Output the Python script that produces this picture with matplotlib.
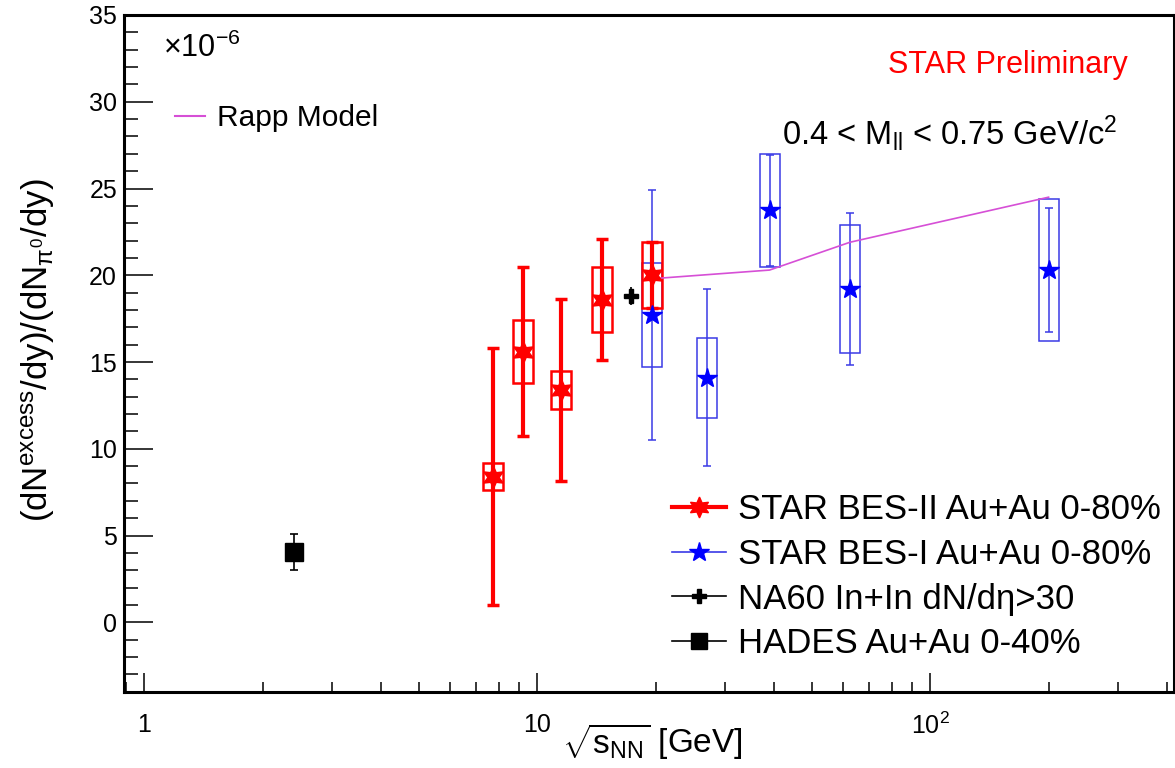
import numpy as np
import matplotlib
matplotlib.use('Agg')
import matplotlib.pyplot as plt
from matplotlib.patches import Rectangle
from matplotlib.lines import Line2D
from matplotlib.ticker import MultipleLocator, LogLocator, FixedLocator, FixedFormatter, NullFormatter

plt.rcParams['font.family'] = ['Liberation Sans', 'DejaVu Sans']
plt.rcParams['mathtext.fontset'] = 'custom'
plt.rcParams['mathtext.rm'] = 'Liberation Sans'
plt.rcParams['mathtext.it'] = 'Liberation Sans'
plt.rcParams['mathtext.bf'] = 'Liberation Sans:bold'

# values in units of 1e-6
bes2_snn = [7.7, 9.2, 11.5, 14.6, 19.6]
bes2_val = [8.4, 15.6, 13.4, 18.6, 20.0]
bes2_stat = [7.4, 4.85, 5.25, 3.5, 1.9]
bes2_sys = [0.8, 1.8, 1.1, 1.85, 1.9]

bes1_snn = [19.6, 27.0, 39.0, 62.4, 200.0]
bes1_val = [17.7, 14.1, 23.75, 19.2, 20.3]
bes1_stat = [7.2, 5.1, 3.2, 4.4, 3.55]
bes1_sys = [3.0, 2.3, 3.25, 3.7, 4.1]

na60_snn = [17.3]
na60_val = [18.8]
na60_err = [0.5]

hades_snn = [2.4]
hades_val = [4.05]
hades_err = [1.05]

rapp_snn = [19.6, 39.0, 62.4, 200.0]
rapp_val = [19.8, 20.3, 21.9, 24.5]

RED = '#ff0000'
BLUE = '#0000ff'
BLUE_LINE = '#3a3ae6'
MAGENTA = '#d64fd6'


def sys_boxes(ax, x, y, err, color, lw, half=0.0254):
    # boxes keep a fixed width in log space
    for xi, yi, ei in zip(x, y, err):
        x0 = xi * 10 ** (-half)
        x1 = xi * 10 ** half
        ax.add_patch(Rectangle((x0, yi - ei), x1 - x0, 2 * ei, fill=False,
                               ec=color, lw=lw, zorder=3))


fig = plt.figure(figsize=(11.75, 7.68), dpi=100)
ax = fig.add_axes([124 / 1175, 76.3 / 768, 1050 / 1175, 676.7 / 768])
ax.set_xscale('log')

# BES-I
ax.errorbar(bes1_snn, bes1_val, yerr=bes1_stat, fmt='none', ecolor=BLUE_LINE,
            elinewidth=1.1, capsize=3, capthick=1.1, zorder=2)
sys_boxes(ax, bes1_snn, bes1_val, bes1_sys, BLUE_LINE, 1.1)

# BES-II
ax.errorbar(bes2_snn, bes2_val, yerr=bes2_stat, fmt='none', ecolor=RED,
            elinewidth=3, capsize=4, capthick=2.5, zorder=4)
sys_boxes(ax, bes2_snn, bes2_val, bes2_sys, RED, 1.8)

ax.plot(rapp_snn, rapp_val, color=MAGENTA, lw=1.2, zorder=5)

ax.plot(bes2_snn, bes2_val, ls='none', marker=(6, 1, 0), ms=16, color=RED, zorder=6)
ax.plot(bes1_snn, bes1_val, ls='none', marker='*', ms=15, color=BLUE, zorder=6)

ax.errorbar(na60_snn, na60_val, yerr=na60_err, fmt='P', color='black', ms=10,
            elinewidth=1.2, capsize=0, zorder=6)
ax.errorbar(hades_snn, hades_val, yerr=hades_err, fmt='s', color='black', ms=13,
            elinewidth=1.2, capsize=3, capthick=1.2, zorder=6)

ax.set_xlim(0.888, 417)
ax.set_ylim(-4, 35)

ax.xaxis.set_major_locator(FixedLocator([1, 10, 100]))
ax.xaxis.set_major_formatter(FixedFormatter(['1', '10', '$10^{2}$']))
ax.xaxis.set_minor_locator(LogLocator(base=10, subs=np.arange(2, 10), numticks=20))
ax.xaxis.set_minor_formatter(NullFormatter())
ax.yaxis.set_major_locator(MultipleLocator(5))
ax.yaxis.set_minor_locator(MultipleLocator(1))

ax.tick_params(axis='both', which='both', direction='in', top=False, right=False, width=1.1)
ax.tick_params(axis='y', which='major', length=21, pad=5, labelsize=18)
ax.tick_params(axis='y', which='minor', length=10)
ax.tick_params(axis='x', which='major', length=14, pad=15, labelsize=18)
ax.tick_params(axis='x', which='minor', length=7)
for sp in ax.spines.values():
    sp.set_linewidth(2.2)

fig.text(38 / 1175, 1 - 350 / 768,
         r'(dN$^{\mathrm{excess}}$/dy)/(dN$_{\pi^{0}}$/dy)',
         rotation=90, ha='center', va='center', fontsize=25)
fig.text(652 / 1175, 1 - 742 / 768, r'$\sqrt{s_{\mathrm{NN}}}$ [GeV]',
         ha='center', va='center', fontsize=24)

ax.text(163 / 1175, 1 - 48 / 768, r'$\times$10$^{-6}$', transform=fig.transFigure,
        ha='left', va='center', fontsize=22)
ax.text(888 / 1175, 1 - 65 / 768, 'STAR Preliminary', transform=fig.transFigure,
        ha='left', va='center', fontsize=22, color=RED)
ax.text(782 / 1175, 1 - 133 / 768, r'0.4 < M$_{\mathrm{ll}}$ < 0.75 GeV/c$^{2}$',
        transform=fig.transFigure, ha='left', va='center', fontsize=23.5)

rapp_leg = ax.legend([Line2D([], [], color=MAGENTA, lw=1.5)], ['Rapp Model'],
                     loc='center left', bbox_to_anchor=(175 / 1175, 1 - 118 / 768),
                     bbox_transform=fig.transFigure, frameon=False, fontsize=21.5,
                     handlelength=1.0, handletextpad=0.4, borderpad=0, borderaxespad=0)
ax.add_artist(rapp_leg)

handles = [
    Line2D([], [], color=RED, lw=3, marker=(6, 1, 0), ms=15),
    Line2D([], [], color=BLUE_LINE, lw=1.2, marker='*', ms=15, mfc=BLUE, mec=BLUE),
    Line2D([], [], color='black', lw=1.2, marker='P', ms=10),
    Line2D([], [], color='black', lw=1.2, marker='s', ms=11),
]
labels = ['STAR BES-II Au+Au 0-80%', 'STAR BES-I Au+Au 0-80%',
          'NA60 In+In dN/dη>30', 'HADES Au+Au 0-40%']
ax.legend(handles, labels, loc='upper left', bbox_to_anchor=(672 / 1175, 1 - 493 / 768),
          bbox_transform=fig.transFigure, frameon=False, fontsize=25,
          handlelength=1.55, handletextpad=0.34, labelspacing=0.34,
          borderpad=0, borderaxespad=0)

fig.savefig('out.png', dpi=100)
